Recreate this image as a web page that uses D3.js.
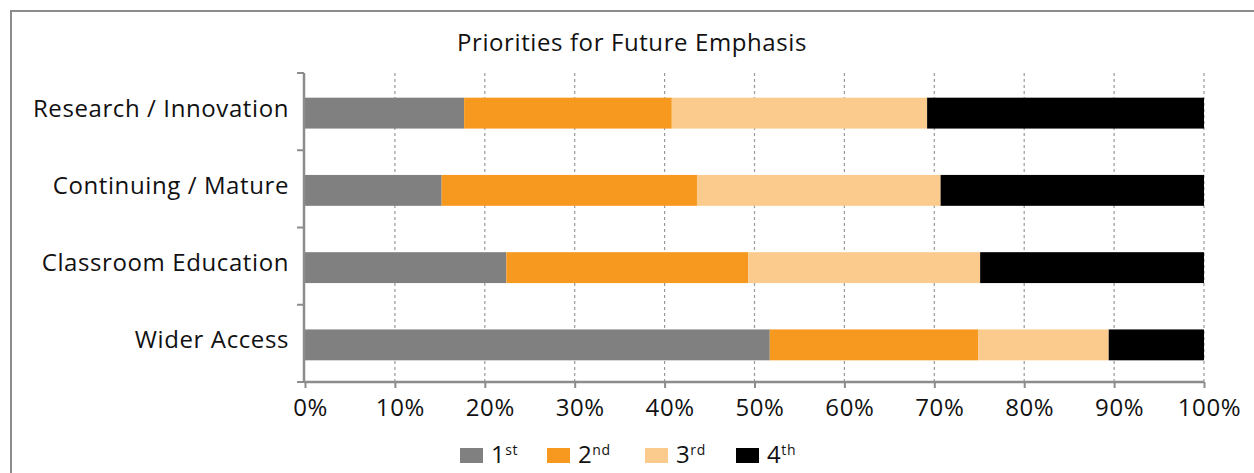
<!DOCTYPE html>
<html>
<head>
<meta charset="utf-8">
<script src="https://cdn.jsdelivr.net/npm/d3@7"></script>
<style>
  body { margin: 0; background: #fff; }
  text { font-family: "Open Sans", Lato, sans-serif; fill: #111; letter-spacing: 0.6px; }
</style>
</head>
<body>
<div class="chart"></div>
<script>
// data (percent share per rank)
const categories = ['Research / Innovation', 'Continuing / Mature', 'Classroom Education', 'Wider Access'];
const ranks = ['1', '2', '3', '4'];
const rankSuffix = ['st', 'nd', 'rd', 'th'];
const first  = [17.7, 15.2, 22.4, 51.7];
const second = [23.1, 28.4, 26.9, 23.2];
const third  = [28.4, 27.1, 25.8, 14.5];
const fourth = [30.8, 29.3, 24.9, 10.6];
const xTicks = [0, 10, 20, 30, 40, 50, 60, 70, 80, 90, 100];
const colors = ['#808080', '#F7991E', '#FBCB8D', '#000000'];

const tableData = categories.map((c, i) => ({
    cat: c, r1: first[i], r2: second[i], r3: third[i], r4: fourth[i]
}));

const width = 1254, height = 473;
const fontSize = 24;
const svg = d3.select('.chart').append('svg')
    .attr('width', width).attr('height', height);

// outer frame
svg.append('rect')
    .attr('x', 11).attr('y', 11)
    .attr('width', 1400).attr('height', 600)
    .attr('fill', 'none').attr('stroke', '#8c8c8c').attr('stroke-width', 2);

const plot = {left: 305, right: 1204, top: 73, bottom: 382};

const x = d3.scaleLinear().domain([0, 100]).range([plot.left, plot.right]);
const y = d3.scaleBand().domain(categories)
    .range([plot.top, plot.bottom])
    .paddingInner(0.6).paddingOuter(0.3);

// title
svg.append('text')
    .attr('x', 632).attr('y', 51)
    .attr('text-anchor', 'middle')
    .style('font-size', fontSize + 'px')
    .text('Priorities for Future Emphasis');

// dashed gridlines
svg.append('g').selectAll('line')
    .data(xTicks.slice(1))
    .join('line')
    .attr('x1', d => x(d)).attr('x2', d => x(d))
    .attr('y1', plot.top).attr('y2', plot.bottom)
    .attr('stroke', '#999').attr('stroke-width', 1.2)
    .attr('stroke-dasharray', '3,3');

// stacked bars
const stack = d3.stack().keys(['r1', 'r2', 'r3', 'r4']);
const series = stack(tableData);

svg.append('g').selectAll('g')
    .data(series)
    .join('g')
    .attr('fill', (d, i) => colors[i])
    .selectAll('rect')
    .data(d => d)
    .join('rect')
    .attr('x', d => x(d[0]))
    .attr('y', d => y(d.data.cat) + 1.5)
    .attr('width', d => x(d[1]) - x(d[0]))
    .attr('height', y.bandwidth());

// x axis
const xAxis = d3.axisBottom(x)
    .tickValues(xTicks)
    .tickFormat(d => d + '%')
    .tickSizeInner(6).tickSizeOuter(0).tickPadding(10);
const xg = svg.append('g')
    .attr('transform', `translate(0,${plot.bottom})`)
    .call(xAxis);
xg.select('.domain').attr('stroke', '#8c8c8c').attr('stroke-width', 2.5)
    .attr('d', `M${plot.left - 1},0H${plot.right}`);
xg.selectAll('.tick line').attr('stroke', '#8c8c8c').attr('stroke-width', 2);
xg.selectAll('.tick text')
    .attr('y', 34).attr('dy', null).attr('x', 5)
    .style('font-size', fontSize + 'px')
    .style('font-family', '"Open Sans", sans-serif').attr('fill', '#111');

// y axis: line with ticks at band boundaries
const yg = svg.append('g');
yg.append('line')
    .attr('x1', plot.left - 1).attr('x2', plot.left - 1)
    .attr('y1', plot.top).attr('y2', plot.bottom)
    .attr('stroke', '#8c8c8c').attr('stroke-width', 2.5);
const bounds = d3.range(categories.length + 1).map(i => plot.top + i * y.step());
yg.selectAll('.ytick')
    .data(bounds)
    .join('line')
    .attr('class', 'ytick')
    .attr('x1', plot.left - 8).attr('x2', plot.left - 1)
    .attr('y1', d => d).attr('y2', d => d)
    .attr('stroke', '#8c8c8c').attr('stroke-width', 2);

yg.selectAll('.ylabel')
    .data(categories)
    .join('text')
    .attr('class', 'ylabel')
    .attr('x', 289)
    .attr('y', d => y(d) + y.bandwidth() / 2 + 5)
    .attr('text-anchor', 'end')
    .style('font-size', fontSize + 'px')
    .text(d => d);

// legend
const legendX = [460, 547, 645, 736];
const legend = svg.append('g').selectAll('g')
    .data(ranks)
    .join('g')
    .attr('transform', (d, i) => `translate(${legendX[i]},448)`);
legend.append('rect')
    .attr('width', 23).attr('height', 15)
    .attr('fill', (d, i) => colors[i]);
const lt = legend.append('text')
    .attr('x', 31).attr('y', 15)
    .style('font-size', fontSize + 'px');
lt.append('tspan').text(d => d);
lt.append('tspan')
    .attr('dy', -8)
    .style('font-size', '14px')
    .text((d, i) => rankSuffix[i]);
</script>
</body>
</html>
